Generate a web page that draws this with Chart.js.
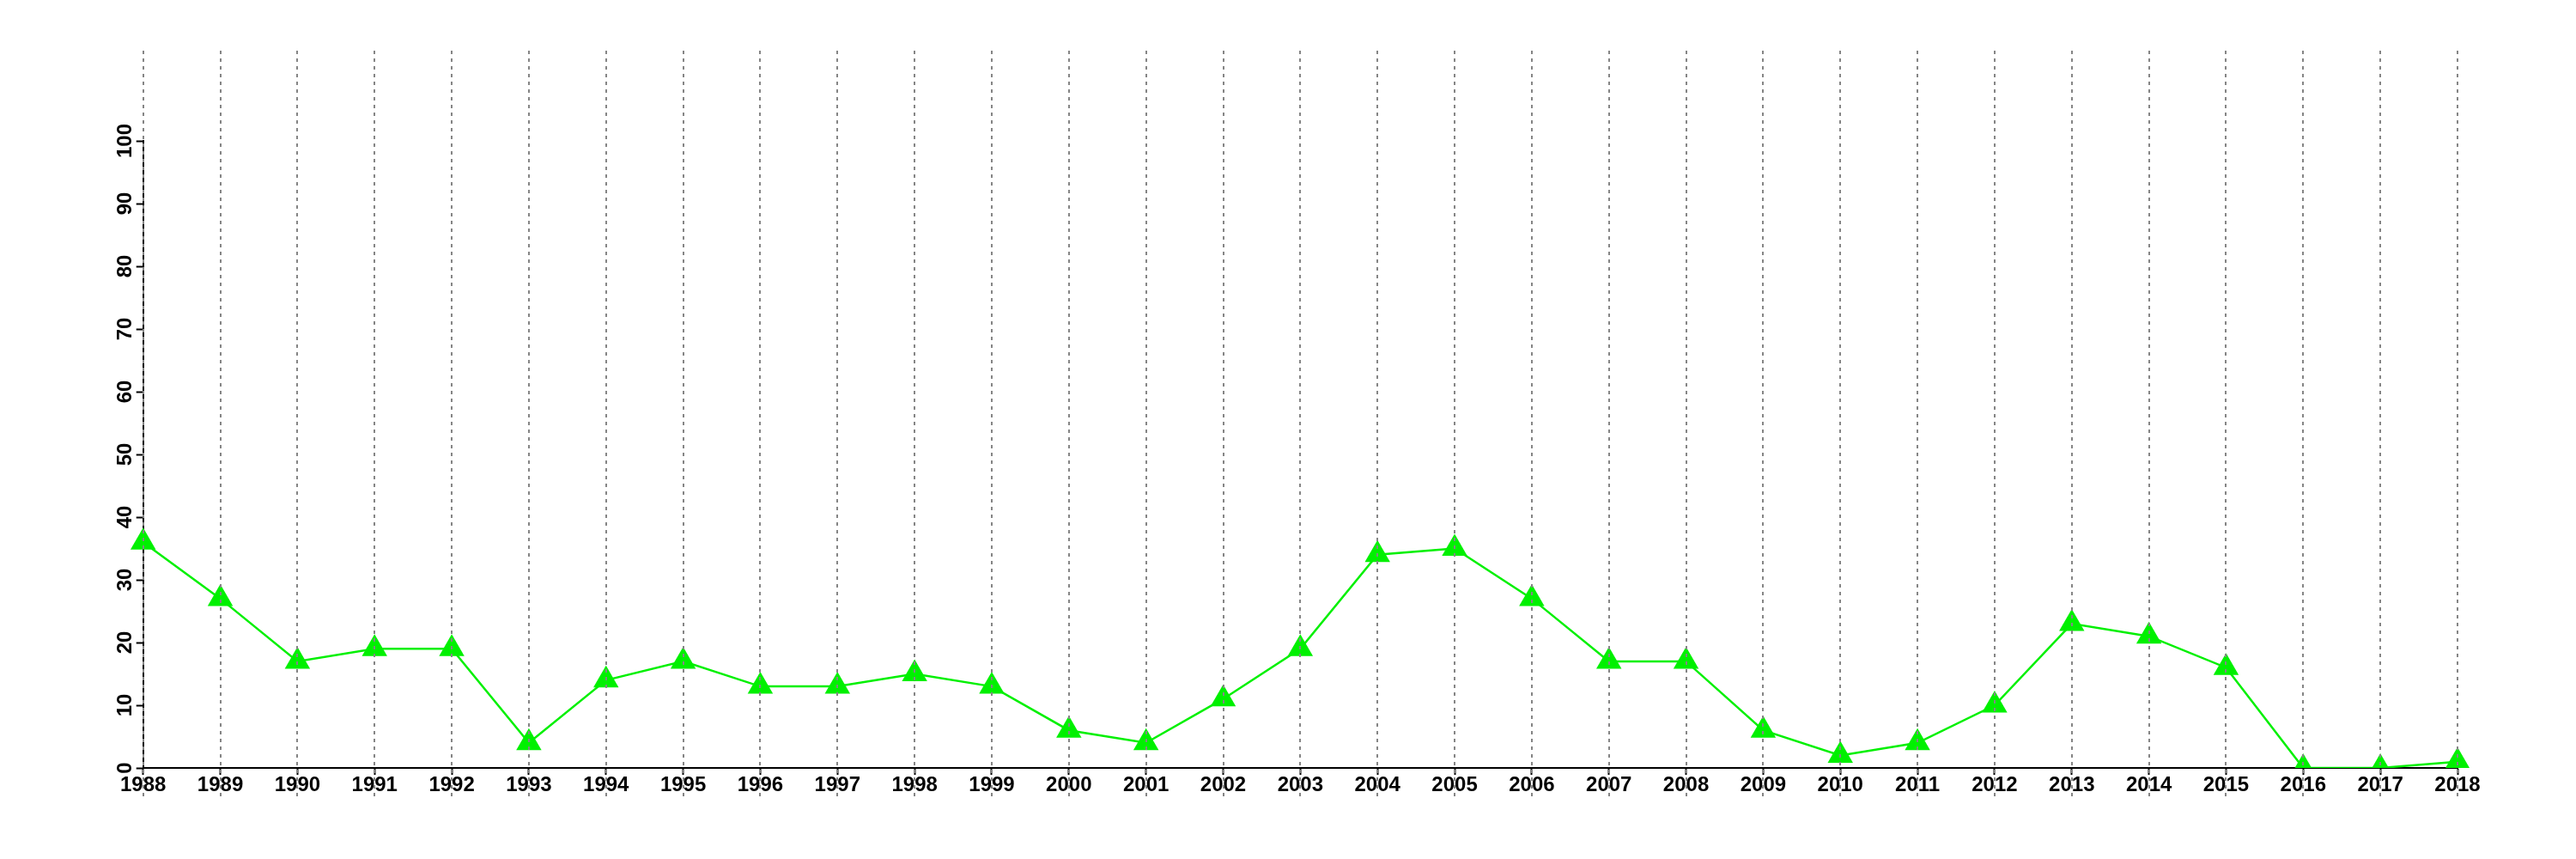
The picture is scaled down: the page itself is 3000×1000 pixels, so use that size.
<!DOCTYPE html>
<html>
<head>
<meta charset="utf-8">
<script src="https://cdn.jsdelivr.net/npm/chart.js@4/dist/chart.umd.min.js"></script>
<style>
  html, body { margin: 0; padding: 0; background: #ffffff; }
  #wrap { width: 3000px; height: 1000px; }
</style>
</head>
<body>
<div id="wrap"><canvas id="c" width="3000" height="1000"></canvas></div>
<script>
const years = ['1988','1989','1990','1991','1992','1993','1994','1995','1996','1997',
  '1998','1999','2000','2001','2002','2003','2004','2005','2006','2007',
  '2008','2009','2010','2011','2012','2013','2014','2015','2016','2017','2018'];
const values = [36, 27, 17, 19, 19, 4, 14, 17, 13, 13,
  15, 13, 6, 4, 11, 19, 34, 35, 27, 17,
  17, 6, 2, 4, 10, 23, 21, 16, 0, 0, 1];
const yMin = 0, yMax = 100, yStep = 10;

const FONT = { family: '"Liberation Sans", Arial, Helvetica, sans-serif', size: 24, weight: 'bold' };

const dashedGrid = {
  id: 'dashedGrid',
  afterDraw(chart) {
    const xs = chart.scales.x;
    const area = chart.chartArea;
    const ctx = chart.ctx;
    ctx.save();
    ctx.setLineDash([4, 5]);
    ctx.strokeStyle = '#858585';
    ctx.lineWidth = 2;
    for (let i = 0; i < years.length; i++) {
      const x = Math.round(xs.getPixelForTick(i));
      ctx.beginPath();
      ctx.moveTo(x, area.top - 105);
      ctx.lineTo(x, area.bottom + 33);
      ctx.stroke();
    }
    ctx.restore();
  }
};

new Chart(document.getElementById('c'), {
  type: 'line',
  data: {
    labels: years,
    datasets: [{
      data: values,
      borderColor: '#00f000',
      backgroundColor: '#00f000',
      borderWidth: 2.5,
      pointStyle: 'triangle',
      pointRadius: 17,
      pointHoverRadius: 17,
      pointBorderWidth: 0,
      pointBackgroundColor: '#00f000',
      tension: 0
    }]
  },
  options: {
    responsive: false,
    animation: false,
    devicePixelRatio: 1,
    layout: { padding: { left: 0, right: 138, top: 164, bottom: 50 } },
    plugins: { legend: { display: false }, tooltip: { enabled: false } },
    scales: {
      x: {
        type: 'category',
        offset: false,
        grid: { drawOnChartArea: false, drawTicks: true, tickLength: 8, tickColor: '#000', tickWidth: 2 },
        border: { display: true, color: '#000', width: 2 },
        ticks: { color: '#000', font: FONT, maxRotation: 0, minRotation: 0, autoSkip: false, padding: -2 },
        afterFit(scale) { scale.height = 56; }
      },
      y: {
        min: yMin, max: yMax,
        grid: { drawOnChartArea: false, drawTicks: true, tickLength: 8, tickColor: '#000', tickWidth: 2 },
        border: { display: true, color: '#000', width: 2 },
        ticks: { stepSize: yStep, color: '#000', font: FONT, minRotation: 90, maxRotation: 90,
                 crossAlign: 'center', padding: -8 },
        afterFit(scale) { scale.width = 166.7; }
      }
    }
  },
  plugins: [dashedGrid]
});
</script>
</body>
</html>
